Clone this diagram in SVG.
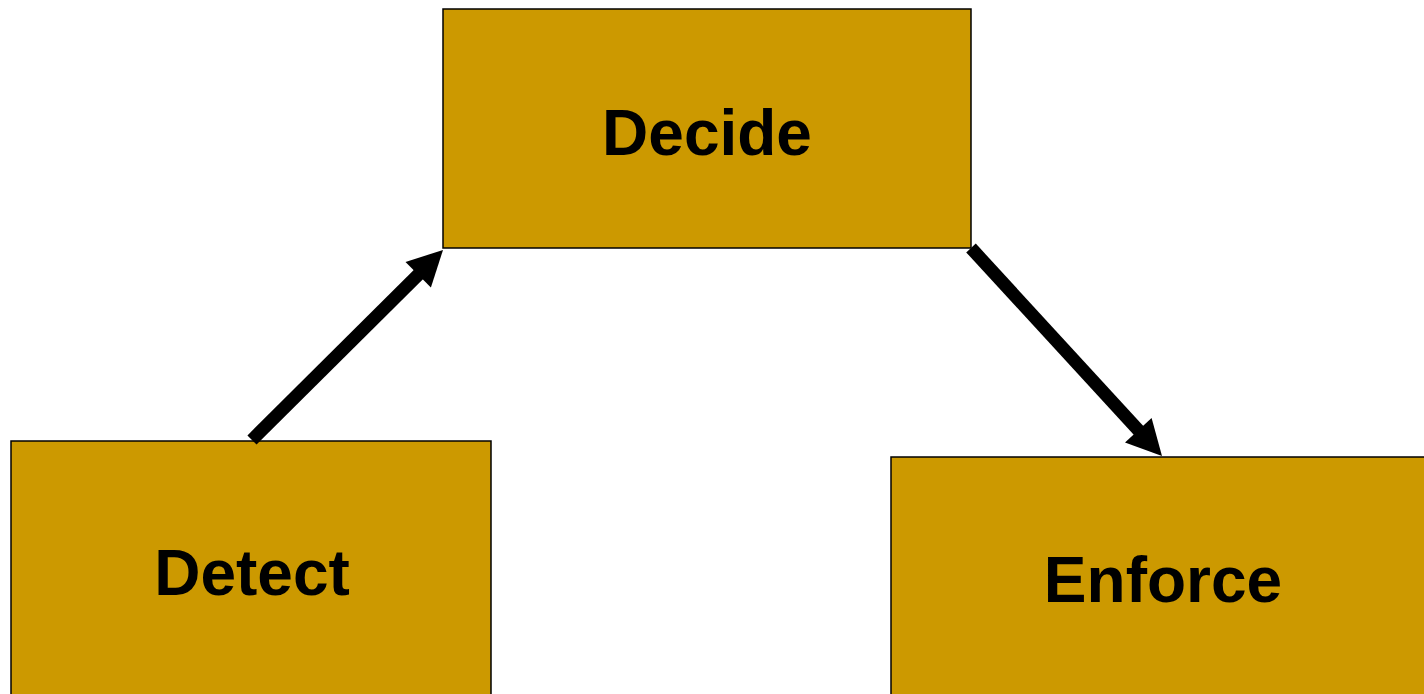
<svg xmlns="http://www.w3.org/2000/svg" width="1424" height="694" viewBox="0 0 1424 694">
<style>
.box{fill:#CC9900;stroke:#000;stroke-width:1.5}
.lbl{font-family:"Liberation Sans",Arial,sans-serif;font-weight:bold;font-size:64px;fill:#000;text-anchor:middle}
.conn{stroke:#000;stroke-width:13;fill:none}
.head{fill:#000;stroke:none}
</style>
<rect width="1424" height="694" fill="#fff"/>
<g id="decide"><rect class="box" x="443" y="9" width="528" height="239"/><text class="lbl" x="707" y="155">Decide</text></g>
<g id="detect"><rect class="box" x="11" y="441" width="480" height="262"/><text class="lbl" x="252" y="595">Detect</text></g>
<g id="enforce"><rect class="box" x="891" y="457" width="544" height="250"/><text class="lbl" x="1163" y="602">Enforce</text></g>
<g id="connectors">
<line class="conn" x1="252" y1="440" x2="419.6" y2="273.3"/>
<polygon class="head" points="443,250 430.9,287.5 405.5,261.9"/>
<line class="conn" x1="971" y1="248" x2="1139.7" y2="431.7"/>
<polygon class="head" points="1162,456 1125,442.4 1151.6,418"/>
</g>
</svg>
